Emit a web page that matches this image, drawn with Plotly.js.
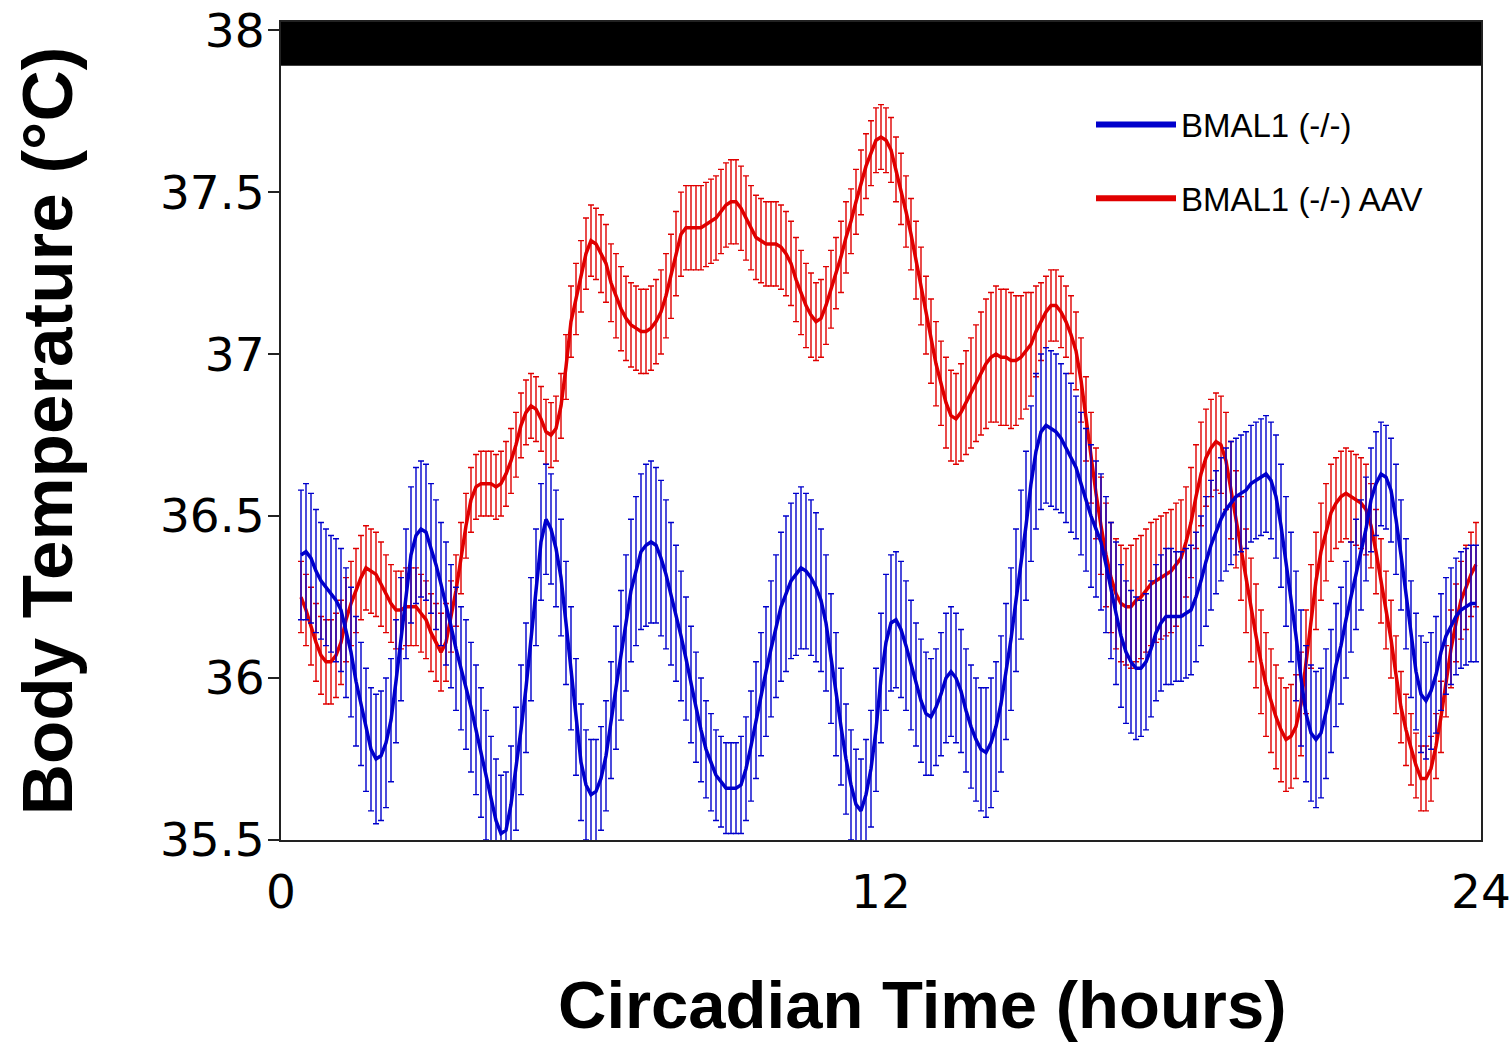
<!DOCTYPE html>
<html>
<head>
<meta charset="utf-8">
<script src="https://cdn.plot.ly/plotly-3.0.1.min.js"></script>
<style>
  html, body { margin: 0; padding: 0; background: #ffffff; }
  #chart { width: 1512px; height: 1046px; }
</style>
</head>
<body>
<div id="chart"></div>
<script>
// Circadian time grid: one sample every 0.1 h, from 0.4 h to 23.9 h
const timeStart = 0.4;
const timeStep = 0.1;

// BMAL1 (-/-) mean body temperature (°C), rows of 10 samples (0.4-1.3, 1.4-2.3, ...)
const bmalKO = [
  36.38,36.39,36.37,36.33,36.30,36.28,36.26,36.24,36.21,36.14,
  36.08,35.99,35.92,35.84,35.78,35.75,35.76,35.80,35.87,35.99,
  36.12,36.26,36.38,36.44,36.46,36.45,36.40,36.35,36.29,36.23,
  36.16,36.09,36.03,35.98,35.91,35.84,35.77,35.70,35.63,35.56,
  35.52,35.53,35.61,35.72,35.84,35.97,36.12,36.28,36.42,36.49,
  36.46,36.40,36.31,36.17,36.03,35.88,35.74,35.67,35.64,35.65,
  35.69,35.76,35.87,35.97,36.07,36.17,36.27,36.33,36.39,36.41,
  36.42,36.41,36.37,36.32,36.26,36.20,36.13,36.06,35.98,35.91,
  35.84,35.78,35.74,35.70,35.68,35.66,35.66,35.66,35.67,35.72,
  35.79,35.87,35.95,36.02,36.09,36.16,36.22,36.26,36.30,36.32,
  36.34,36.33,36.31,36.28,36.24,36.17,36.06,35.95,35.85,35.75,
  35.67,35.61,35.59,35.64,35.72,35.84,36.00,36.11,36.17,36.18,
  36.15,36.10,36.04,35.98,35.93,35.89,35.88,35.91,35.95,36.00,
  36.02,36.00,35.96,35.90,35.85,35.81,35.78,35.77,35.80,35.85,
  35.92,36.02,36.12,36.24,36.35,36.47,36.60,36.70,36.76,36.78,
  36.77,36.76,36.74,36.71,36.68,36.65,36.60,36.55,36.50,36.46,
  36.42,36.35,36.27,36.20,36.13,36.08,36.05,36.03,36.03,36.05,
  36.09,36.14,36.17,36.19,36.19,36.19,36.19,36.20,36.21,36.25,
  36.30,36.36,36.41,36.45,36.49,36.52,36.54,36.56,36.57,36.58,
  36.60,36.61,36.62,36.63,36.61,36.56,36.47,36.36,36.25,36.13,
  36.00,35.89,35.83,35.81,35.83,35.89,35.96,36.04,36.10,36.18,
  36.25,36.32,36.38,36.46,36.55,36.60,36.63,36.62,36.58,36.49,
  36.38,36.26,36.12,36.02,35.95,35.93,35.96,36.01,36.08,36.13,
  36.16,36.19,36.21,36.22,36.23,36.23
];

// BMAL1 (-/-) standard error (°C)
const bmalKOErr = [
  0.20,0.21,0.20,0.19,0.18,0.18,0.18,0.19,0.19,0.20,
  0.20,0.20,0.19,0.19,0.19,0.20,0.20,0.20,0.19,0.19,
  0.19,0.20,0.21,0.21,0.21,0.21,0.20,0.20,0.19,0.19,
  0.19,0.19,0.19,0.20,0.20,0.20,0.20,0.20,0.19,0.19,
  0.18,0.18,0.18,0.19,0.20,0.20,0.19,0.18,0.18,0.17,
  0.17,0.18,0.18,0.19,0.19,0.18,0.18,0.17,0.17,0.16,
  0.16,0.17,0.18,0.19,0.20,0.21,0.22,0.23,0.24,0.25,
  0.25,0.24,0.24,0.23,0.22,0.21,0.20,0.19,0.18,0.17,
  0.16,0.15,0.15,0.14,0.14,0.14,0.14,0.14,0.15,0.16,
  0.17,0.18,0.19,0.20,0.21,0.22,0.23,0.24,0.24,0.25,
  0.25,0.24,0.24,0.23,0.22,0.21,0.20,0.19,0.18,0.17,
  0.17,0.17,0.16,0.17,0.18,0.19,0.20,0.21,0.21,0.21,
  0.21,0.20,0.20,0.19,0.19,0.19,0.18,0.18,0.19,0.20,
  0.20,0.20,0.19,0.19,0.19,0.19,0.19,0.20,0.20,0.20,
  0.21,0.21,0.22,0.22,0.23,0.23,0.24,0.24,0.24,0.24,
  0.24,0.24,0.23,0.23,0.23,0.22,0.22,0.22,0.22,0.21,
  0.21,0.21,0.21,0.22,0.22,0.22,0.22,0.22,0.21,0.21,
  0.21,0.21,0.21,0.21,0.21,0.20,0.20,0.20,0.20,0.20,
  0.20,0.20,0.20,0.19,0.19,0.19,0.19,0.18,0.18,0.18,
  0.18,0.18,0.18,0.18,0.18,0.19,0.19,0.20,0.20,0.20,
  0.21,0.21,0.21,0.21,0.20,0.20,0.19,0.19,0.18,0.18,
  0.17,0.17,0.17,0.16,0.16,0.16,0.16,0.16,0.16,0.17,
  0.17,0.17,0.18,0.18,0.18,0.18,0.18,0.18,0.18,0.18,
  0.18,0.18,0.18,0.18,0.18,0.18
];

// BMAL1 (-/-) AAV mean body temperature (°C)
const bmalAAV = [
  36.25,36.21,36.16,36.11,36.07,36.05,36.05,36.07,36.11,36.18,
  36.23,36.27,36.31,36.34,36.33,36.32,36.29,36.26,36.23,36.21,
  36.21,36.22,36.22,36.22,36.20,36.18,36.14,36.11,36.08,36.11,
  36.19,36.27,36.37,36.47,36.55,36.59,36.60,36.60,36.60,36.59,
  36.60,36.63,36.67,36.72,36.78,36.82,36.84,36.83,36.80,36.76,
  36.75,36.77,36.84,36.96,37.10,37.17,37.24,37.31,37.35,37.34,
  37.31,37.28,37.22,37.18,37.14,37.11,37.09,37.08,37.07,37.07,
  37.08,37.10,37.13,37.18,37.24,37.31,37.37,37.39,37.39,37.39,
  37.39,37.40,37.41,37.42,37.44,37.46,37.47,37.47,37.45,37.42,
  37.39,37.36,37.35,37.34,37.34,37.34,37.33,37.31,37.28,37.23,
  37.19,37.15,37.12,37.10,37.11,37.15,37.20,37.25,37.30,37.36,
  37.41,37.47,37.53,37.58,37.62,37.66,37.67,37.66,37.63,37.57,
  37.51,37.44,37.37,37.29,37.21,37.12,37.04,36.97,36.91,36.85,
  36.81,36.80,36.82,36.85,36.88,36.91,36.94,36.97,36.99,37.00,
  36.99,36.99,36.98,36.98,36.99,37.01,37.03,37.07,37.10,37.13,
  37.15,37.15,37.13,37.10,37.06,37.01,36.92,36.80,36.68,36.57,
  36.47,36.38,36.31,36.26,36.23,36.22,36.22,36.24,36.25,36.27,
  36.29,36.30,36.31,36.32,36.33,36.35,36.37,36.42,36.48,36.56,
  36.63,36.68,36.71,36.73,36.72,36.67,36.58,36.49,36.40,36.30,
  36.21,36.13,36.05,35.98,35.93,35.88,35.84,35.81,35.82,35.85,
  35.92,36.05,36.19,36.30,36.39,36.45,36.51,36.54,36.56,36.57,
  36.56,36.55,36.54,36.52,36.47,36.39,36.30,36.21,36.12,36.01,
  35.91,35.84,35.78,35.73,35.69,35.69,35.72,35.79,35.88,35.99,
  36.09,36.17,36.24,36.28,36.32,36.35
];

// BMAL1 (-/-) AAV standard error (°C)
const bmalAAVErr = [
  0.11,0.11,0.12,0.12,0.12,0.13,0.13,0.13,0.13,0.13,
  0.13,0.13,0.13,0.13,0.13,0.13,0.13,0.12,0.12,0.12,
  0.12,0.12,0.12,0.12,0.12,0.12,0.12,0.12,0.12,0.12,
  0.11,0.11,0.11,0.10,0.10,0.10,0.10,0.10,0.10,0.10,
  0.10,0.10,0.10,0.10,0.10,0.10,0.10,0.10,0.10,0.10,
  0.10,0.10,0.10,0.10,0.11,0.11,0.11,0.11,0.11,0.11,
  0.12,0.12,0.12,0.13,0.13,0.13,0.13,0.13,0.13,0.13,
  0.13,0.13,0.13,0.13,0.13,0.13,0.13,0.13,0.13,0.13,
  0.13,0.13,0.13,0.13,0.13,0.13,0.13,0.13,0.13,0.13,
  0.13,0.13,0.13,0.13,0.13,0.13,0.13,0.13,0.13,0.13,
  0.13,0.13,0.13,0.12,0.12,0.12,0.12,0.11,0.11,0.11,
  0.10,0.10,0.10,0.10,0.10,0.10,0.10,0.10,0.10,0.10,
  0.11,0.11,0.11,0.12,0.12,0.12,0.13,0.13,0.13,0.14,
  0.14,0.14,0.15,0.16,0.17,0.18,0.19,0.20,0.20,0.21,
  0.21,0.21,0.21,0.20,0.19,0.18,0.16,0.14,0.12,0.11,
  0.11,0.11,0.11,0.11,0.12,0.12,0.13,0.13,0.14,0.14,
  0.15,0.16,0.17,0.17,0.18,0.18,0.19,0.19,0.19,0.19,
  0.19,0.19,0.19,0.19,0.19,0.19,0.18,0.17,0.17,0.16,
  0.16,0.15,0.15,0.15,0.15,0.15,0.15,0.15,0.16,0.16,
  0.16,0.16,0.16,0.16,0.16,0.16,0.16,0.16,0.16,0.16,
  0.16,0.16,0.16,0.15,0.15,0.15,0.15,0.14,0.14,0.14,
  0.14,0.14,0.14,0.14,0.13,0.13,0.13,0.12,0.12,0.12,
  0.11,0.11,0.11,0.10,0.10,0.10,0.10,0.10,0.11,0.11,
  0.12,0.12,0.12,0.13,0.13,0.13
];

// Series names
const seriesNames = ['BMAL1 (-/-)', 'BMAL1 (-/-) AAV'];

// Axis ticks
const xTickVals = [0, 12, 24];
const xTickText = ['0', '12', '24'];
const yTickVals = [35.5, 36, 36.5, 37, 37.5, 38];
const yTickText = ['35.5', '36', '36.5', '37', '37.5', '38'];

// Dark-phase bar across the whole circadian day
const darkBarStart = 0;
const darkBarEnd = 24;
const darkBarBottom = 37.89;
const darkBarTop = 38.025;

const hours = bmalKO.map((_, i) => +(timeStart + i * timeStep).toFixed(1));

const blue = '#0000cc';
const red = '#e00000';

const traces = [
  {
    x: hours, y: bmalAAV, type: 'scatter', mode: 'lines',
    name: seriesNames[1], showlegend: false,
    line: { color: red, width: 3.5 },
    error_y: { type: 'data', array: bmalAAVErr, visible: true, color: red, thickness: 1.4, width: 3 }
  },
  {
    x: hours, y: bmalKO, type: 'scatter', mode: 'lines',
    name: seriesNames[0], showlegend: false,
    line: { color: blue, width: 3.5 },
    error_y: { type: 'data', array: bmalKOErr, visible: true, color: blue, thickness: 1.4, width: 3 }
  },
  // legend entries (drawn with the thicker key line of the original legend)
  {
    x: [null], y: [null], type: 'scatter', mode: 'lines', name: seriesNames[0],
    legendgroup: 'ko', legendrank: 1, line: { color: blue, width: 6 }, hoverinfo: 'skip'
  },
  {
    x: [null], y: [null], type: 'scatter', mode: 'lines', name: seriesNames[1],
    legendgroup: 'aav', legendrank: 2, line: { color: red, width: 6 }, hoverinfo: 'skip'
  }
];

const layout = {
  width: 1512, height: 1046,
  paper_bgcolor: '#ffffff', plot_bgcolor: '#ffffff',
  margin: { l: 281, r: 31, t: 22, b: 206 },
  showlegend: true,
  legend: {
    x: 0.675, xanchor: 'left', y: 0.909, yanchor: 'top',
    font: { family: 'Liberation Sans, Arial, sans-serif', size: 33, color: '#000' },
    bgcolor: 'rgba(0,0,0,0)', borderwidth: 0,
    itemwidth: 80,
    tracegroupgap: 28, traceorder: 'grouped'
  },
  xaxis: {
    range: [0, 24], tickvals: xTickVals, ticktext: xTickText,
    showgrid: false, zeroline: false,
    showline: true, linecolor: '#222', linewidth: 2, mirror: true,
    ticks: '', ticklabelstandoff: 10,
    tickfont: { family: 'DejaVu Sans, sans-serif', size: 47, color: '#000' }
  },
  yaxis: {
    range: [35.5, 38.025], tickvals: yTickVals, ticktext: yTickText,
    showgrid: false, zeroline: false,
    showline: true, linecolor: '#222', linewidth: 2, mirror: true,
    ticks: 'outside', ticklen: 11, tickwidth: 2, tickcolor: '#222',
    ticklabelstandoff: -6,
    tickfont: { family: 'DejaVu Sans, sans-serif', size: 47, color: '#000' },
    title: { text: 'Body Temperature (°C)', standoff: 64,
      font: { family: 'Liberation Sans, Arial, sans-serif', size: 71, color: '#000', weight: 'bold' } }
  },
  annotations: [
    { text: 'Circadian Time (hours)', xref: 'paper', yref: 'paper',
      x: 0.534, y: -0.2017, xanchor: 'center', yanchor: 'middle', showarrow: false,
      font: { family: 'Liberation Sans, Arial, sans-serif', size: 67, color: '#000', weight: 'bold' } }
  ],
  shapes: [
    { type: 'rect', xref: 'x', yref: 'y', x0: darkBarStart, x1: darkBarEnd,
      y0: darkBarBottom, y1: darkBarTop, fillcolor: '#000', line: { width: 0 }, layer: 'above' }
  ]
};

Plotly.newPlot('chart', traces, layout, { displayModeBar: false, staticPlot: true });
</script>
</body>
</html>
